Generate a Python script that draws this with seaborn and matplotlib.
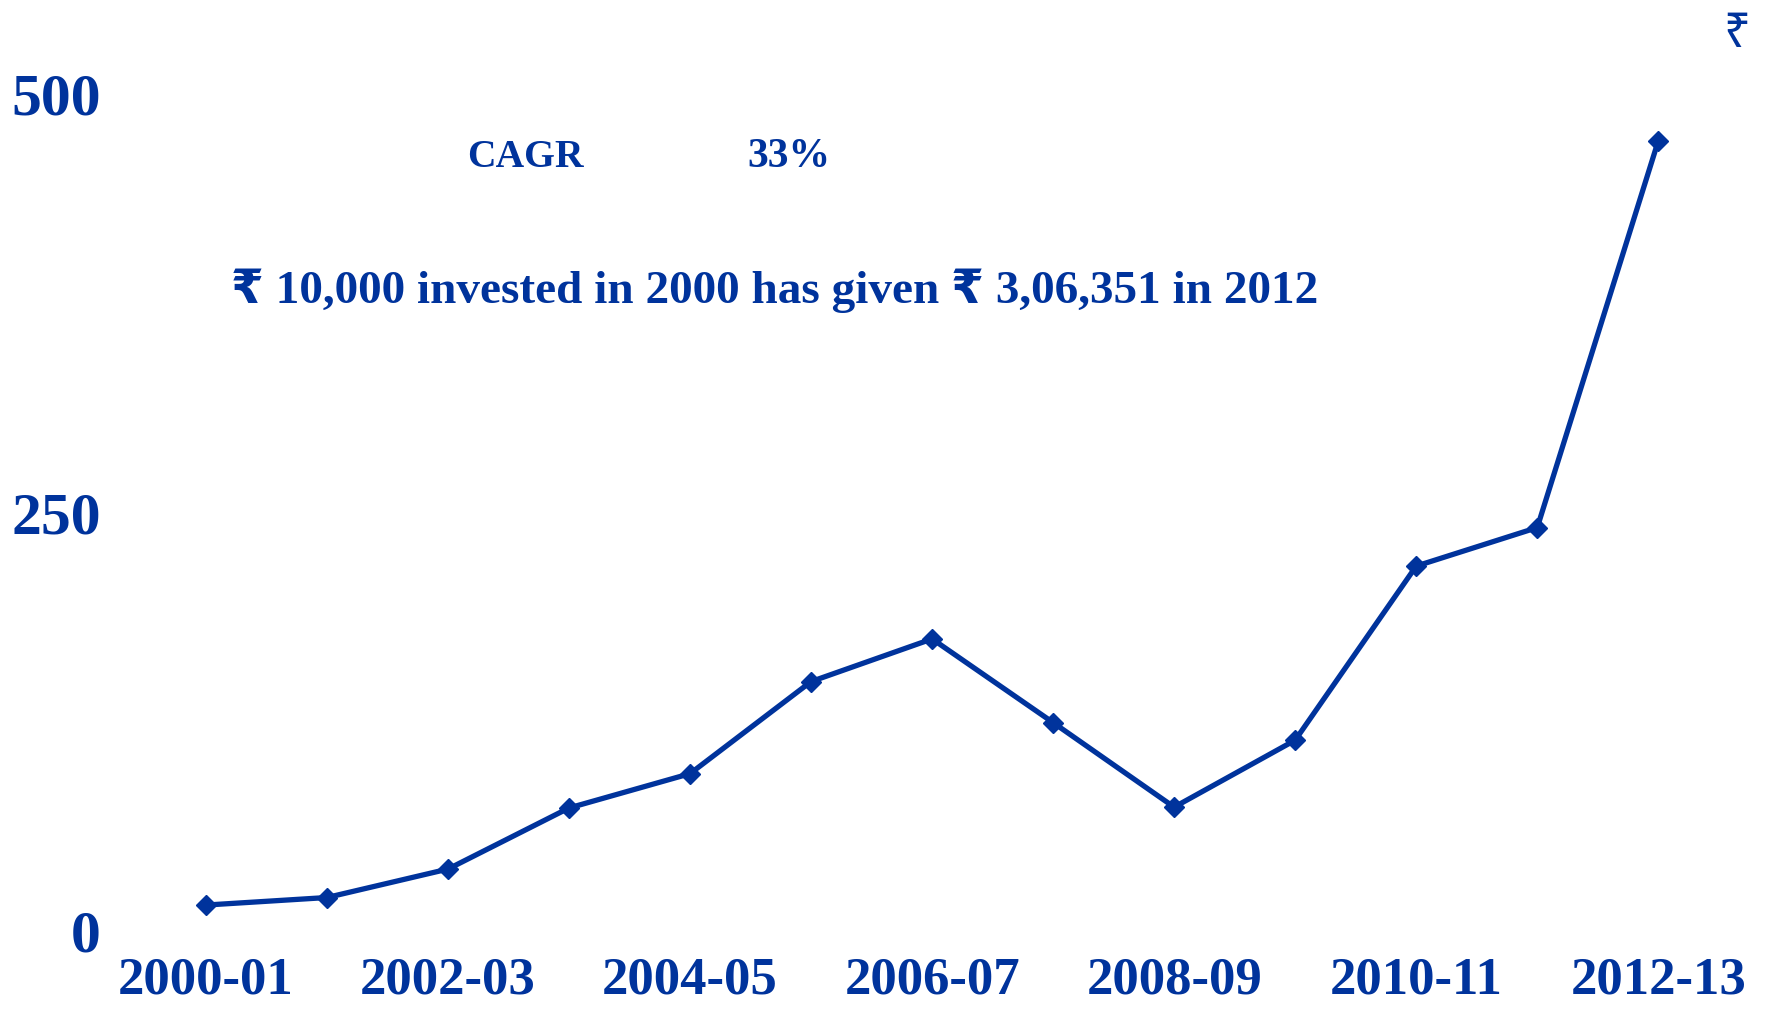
import matplotlib
matplotlib.use("Agg")
import matplotlib.pyplot as plt
import seaborn as sns
import pandas as pd

# Financial years and value of the investment (in ₹ '000 style units)
years = ["2000-01", "2001-02", "2002-03", "2003-04", "2004-05", "2005-06", "2006-07",
         "2007-08", "2008-09", "2009-10", "2010-11", "2011-12", "2012-13"]
values = [15.5, 20, 37, 73.5, 94, 149, 174.5, 124.5, 74, 114, 218, 241, 472]
y_ticks = [0, 250, 500]
cagr_label = "CAGR"
cagr_value = "33%"
summary = "₹ 10,000 invested in 2000 has given ₹ 3,06,351 in 2012"
unit_label = "₹"

BLUE = "#00339c"

sns.set_theme(style="white")
plt.rcParams["font.family"] = ["Liberation Serif", "DejaVu Sans", "Noto Sans"]
plt.rcParams["font.weight"] = "bold"

df = pd.DataFrame({"pos": range(len(years)), "value": values, "year": years})

fig = plt.figure(figsize=(17.68, 10.09), dpi=100)
ax = fig.add_axes([0.0617, 0.0773, 0.931, 0.8295])

sns.lineplot(data=df, x="pos", y="value", ax=ax, color=BLUE, linewidth=3.8,
             marker="D", markersize=10.5, markeredgecolor=BLUE, markeredgewidth=1,
             clip_on=False)

ax.set_xlim(-0.8, 12.8)
ax.set_ylim(0, 500)
ax.set_yticks(y_ticks)
ax.set_yticklabels([str(t) for t in y_ticks], fontsize=43, color=BLUE, fontweight="bold")
shown = list(range(0, len(years), 2))
ax.set_xticks(shown)
ax.set_xticklabels([years[i] for i in shown], fontsize=38, color=BLUE, fontweight="bold")
ax.tick_params(axis="both", length=0)
ax.tick_params(axis="x", pad=18)
ax.tick_params(axis="y", pad=6)
ax.set_xlabel("")
ax.set_ylabel("")
for s in ax.spines.values():
    s.set_visible(False)
ax.grid(False)

fig.text(0.264, 0.8444, cagr_label, fontsize=28.5, color=BLUE, fontweight="bold",
         ha="left", va="center")
fig.text(0.423, 0.8444, cagr_value, fontsize=30, color=BLUE, fontweight="bold",
         ha="left", va="center")
fig.text(0.1307, 0.7116, summary, fontsize=34, color=BLUE, fontweight="bold",
         ha="left", va="center")
fig.text(0.9825, 0.966, unit_label, fontsize=34, color=BLUE, fontweight="medium",
         family=["Noto Sans", "DejaVu Sans"], ha="center", va="center")

fig.savefig("out.png", dpi=100, facecolor="white")
